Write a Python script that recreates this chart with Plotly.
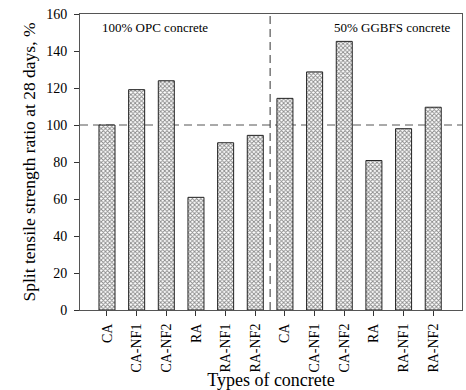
import plotly.graph_objects as go

categories = ["CA", "CA-NF1", "CA-NF2", "RA", "RA-NF1", "RA-NF2",
              "CA", "CA-NF1", "CA-NF2", "RA", "RA-NF1", "RA-NF2"]
ratio_opc = [100.0, 119.1, 123.9, 60.9, 90.4, 94.4]
ratio_ggbfs = [114.4, 128.7, 145.2, 80.8, 98.0, 109.6]
y_ticks = [0, 20, 40, 60, 80, 100, 120, 140, 160]

values = ratio_opc + ratio_ggbfs
positions = list(range(len(values)))

font_family = "Liberation Serif"

fig = go.Figure()
fig.add_trace(go.Bar(
    x=positions,
    y=values,
    width=0.54,
    marker=dict(
        color="white",
        line=dict(color="#222222", width=1),
        pattern=dict(shape="x", size=3, solidity=0.5,
                     fgcolor="#111111", bgcolor="white"),
    ),
    showlegend=False,
))

# Reference level (100 %) and separator between the two binder groups
fig.add_hline(y=100, layer="below",
              line=dict(color="#555555", width=1, dash="8px,5px"))
fig.add_vline(x=5.5, layer="below",
              line=dict(color="#333333", width=1, dash="8px,5px"))

fig.add_annotation(x=0.052, y=0.953, xref="paper", yref="paper",
                   text="100% OPC concrete", showarrow=False,
                   xanchor="left", yanchor="middle",
                   font=dict(family=font_family, size=13, color="black"))
fig.add_annotation(x=0.974, y=0.953, xref="paper", yref="paper",
                   text="50% GGBFS concrete", showarrow=False,
                   xanchor="right", yanchor="middle",
                   font=dict(family=font_family, size=13, color="black"))

fig.update_xaxes(
    range=[-0.91, 11.97],
    tickmode="array",
    tickvals=positions,
    ticktext=categories,
    tickangle=-90,
    ticks="outside",
    ticklen=5,
    tickcolor="#333333",
    ticklabelstandoff=2,
    showline=True,
    linecolor="#555555",
    linewidth=1,
    mirror=True,
    showgrid=False,
    zeroline=False,
    tickfont=dict(family=font_family, size=14, color="black"),
    title=dict(text="Types of concrete", standoff=2,
               font=dict(family=font_family, size=18, color="black")),
)
fig.update_yaxes(
    range=[0, 160],
    tickmode="array",
    tickvals=y_ticks,
    ticks="outside",
    ticklen=5,
    tickcolor="#333333",
    ticklabelstandoff=4,
    showline=True,
    linecolor="#555555",
    linewidth=1,
    mirror=True,
    showgrid=False,
    zeroline=False,
    tickfont=dict(family=font_family, size=14, color="black"),
    title=dict(text="Split tensile strength ratio at 28 days, %", standoff=6,
               font=dict(family=font_family, size=17.5, color="black")),
)

fig.update_layout(
    width=466,
    height=390,
    margin=dict(l=80, r=3, t=14, b=78),
    paper_bgcolor="white",
    plot_bgcolor="white",
    font=dict(family=font_family, color="black"),
)

fig.write_html("out.html")
